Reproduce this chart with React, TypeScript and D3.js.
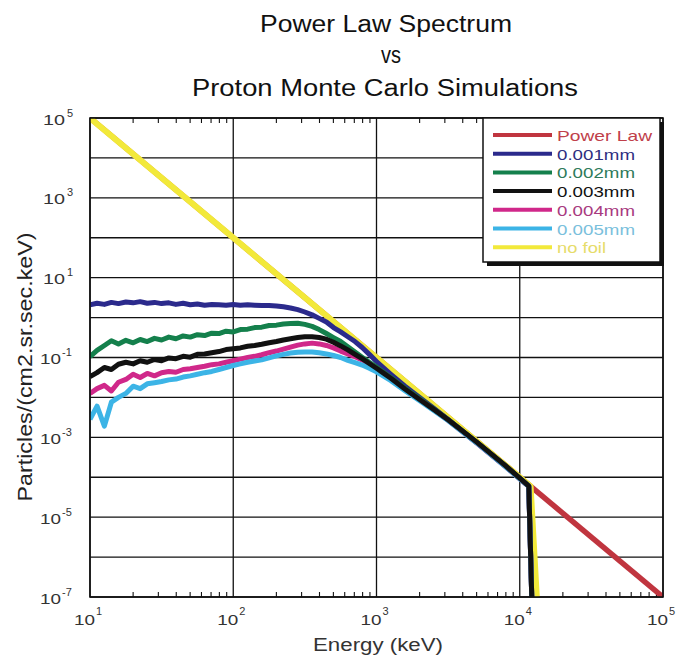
import React from 'react';
import * as d3 from 'd3';

// Energies (keV) at which the simulated spectra are sampled
const energies = [10, 11.2, 12.6, 14.1, 15.8, 17.8, 20, 22.4, 25.1, 28.2, 31.6, 35.5, 39.8, 44.7, 50.1, 56.2, 63.1, 70.8, 79.4, 89.1,
  100, 112, 126, 141, 158, 178, 200, 224, 251, 282, 316, 355, 398, 447, 501, 562, 631, 708, 794, 891,
  1000, 1120, 1260, 1580, 2000, 2510, 3160, 5010, 7940, 10000, 11560, 12130];

const foil001 = [2.09, 2.29, 2.14, 2.40, 2.24, 2.45, 2.34, 2.51, 2.29, 2.40, 2.24, 2.34, 2.14, 2.29, 2.09, 2.19, 2.04, 2.14, 2.09, 2.04,
  2.14, 2.04, 2.09, 2.04, 2.00, 2.00, 1.95, 1.86, 1.74, 1.58, 1.38, 1.17, 0.955, 0.776, 0.562, 0.437, 0.331, 0.251, 0.178, 0.120,
  0.0794, 0.0550, 0.0380, 0.0191, 0.0100, 0.00537, 0.00282, 0.000741, 0.000191, 0.0000933, 0.0000603, 1e-7];

const foil002 = [0.105, 0.151, 0.200, 0.263, 0.219, 0.269, 0.234, 0.282, 0.251, 0.302, 0.275, 0.324, 0.295, 0.347, 0.324, 0.372, 0.355, 0.407, 0.398, 0.457,
  0.437, 0.501, 0.513, 0.562, 0.575, 0.631, 0.646, 0.692, 0.708, 0.724, 0.676, 0.603, 0.501, 0.398, 0.316, 0.251, 0.186, 0.138, 0.102, 0.0759,
  0.0575, 0.0427, 0.0316, 0.0170, 0.00933, 0.00513, 0.00275, 0.000741, 0.000191, 0.0000933, 0.0000603, 1e-7];

const foil003 = [0.0331, 0.0417, 0.0562, 0.0501, 0.0676, 0.0759, 0.0692, 0.0832, 0.0759, 0.0891, 0.0832, 0.0977, 0.0933, 0.107, 0.102, 0.120, 0.123, 0.132, 0.141, 0.158,
  0.166, 0.174, 0.191, 0.200, 0.214, 0.234, 0.251, 0.275, 0.295, 0.316, 0.331, 0.331, 0.316, 0.288, 0.240, 0.195, 0.155, 0.120, 0.0933, 0.0708,
  0.0537, 0.0407, 0.0302, 0.0162, 0.00891, 0.00501, 0.00275, 0.000759, 0.000195, 0.0000955, 0.0000603, 1e-7];

const foil004 = [0.0126, 0.0166, 0.0200, 0.0145, 0.0240, 0.0282, 0.0380, 0.0316, 0.0398, 0.0347, 0.0417, 0.0447, 0.0427, 0.0501, 0.0525, 0.0562, 0.0603, 0.0661, 0.0692, 0.0759,
  0.0832, 0.0912, 0.100, 0.107, 0.117, 0.132, 0.145, 0.162, 0.182, 0.204, 0.219, 0.229, 0.219, 0.200, 0.174, 0.145, 0.123, 0.105, 0.0871, 0.0692,
  0.0525, 0.0398, 0.0295, 0.0158, 0.00871, 0.00490, 0.00269, 0.000724, 0.000186, 0.0000912, 0.0000589, 1e-7];

const foil005 = [0.00282, 0.00603, 0.00191, 0.00759, 0.0100, 0.0126, 0.0191, 0.0166, 0.0219, 0.0234, 0.0251, 0.0275, 0.0288, 0.0324, 0.0347, 0.0380, 0.0417, 0.0447, 0.0501, 0.0562,
  0.0631, 0.0692, 0.0759, 0.0813, 0.0871, 0.0977, 0.110, 0.120, 0.129, 0.135, 0.138, 0.138, 0.132, 0.123, 0.112, 0.100, 0.0851, 0.0741, 0.0646, 0.0537,
  0.0437, 0.0339, 0.0263, 0.0148, 0.00832, 0.00468, 0.00263, 0.000724, 0.000186, 0.0000912, 0.0000589, 1e-7];

const powerLawEnergies = [10, 100000];
const powerLawValues = [100000, 1e-7];

const noFoilEnergies = [10, 11900, 13150];
const noFoilValues = [100000, 0.0000593, 1e-7];

const xTickExponents = [1, 2, 3, 4, 5];
const yLabelExponents = [5, 3, 1, -1, -3, -5, -7];
const yGridExponents = [5, 4, 3, 2, 1, 0, -1, -2, -3, -4, -5, -6, -7];
const minorMultipliers = [2, 3, 4, 5, 6, 7, 8, 9];

const titleLines = ['Power Law Spectrum', 'vs', 'Proton Monte Carlo Simulations'];
const xAxisTitle = 'Energy (keV)';
const yAxisTitle = 'Particles/(cm2.sr.sec.keV)';

const legendLabels = ['Power Law', '0.001mm', '0.002mm', '0.003mm', '0.004mm', '0.005mm', 'no foil'];
const legendLineColors = ['#c0353f', '#2b2a8c', '#14804c', '#111111', '#d0288a', '#3cb4e6', '#f2e93a'];
const legendTextColors = ['#c0404a', '#2e2e80', '#2e7a5a', '#111111', '#a83a80', '#7ac0dc', '#e6dc6a'];
const legendTextLengths = [95, 78, 78, 78, 78, 78, 49];

const FONT = "'Liberation Sans', Arial, Helvetica, sans-serif";

const L = 90, R = 663, T = 118, B = 597;

export default function App() {
  const x = d3.scaleLog().domain([10, 1e5]).range([L, R]);
  const y = d3.scaleLog().domain([1e-7, 1e5]).range([B, T]);
  const line = d3.line<[number, number]>().x(d => x(d[0])).y(d => y(d[1]));

  const zip = (e: number[], v: number[]) => {
    const n = Math.min(e.length, v.length);
    const out: [number, number][] = [];
    for (let i = 0; i < n; i++) out.push([e[i], v[i]]);
    return out;
  };

  // drawing order: power law, no foil, then simulations with 0.003mm on top
  const drawn = [
    { d: zip(powerLawEnergies, powerLawValues), c: legendLineColors[0], w: 5.5 },
    { d: zip(noFoilEnergies, noFoilValues), c: legendLineColors[6], w: 6 },
    { d: zip(energies, foil001), c: legendLineColors[1], w: 5 },
    { d: zip(energies, foil002), c: legendLineColors[2], w: 5 },
    { d: zip(energies, foil004), c: legendLineColors[4], w: 5 },
    { d: zip(energies, foil005), c: legendLineColors[5], w: 5 },
    { d: zip(energies, foil003), c: legendLineColors[3], w: 5 },
  ];

  const minorTicks: number[] = [];
  for (let k = 1; k <= 4; k++) for (const m of minorMultipliers) minorTicks.push(m * Math.pow(10, k));

  const legX = 483, legY = 118, legW = 177, legH = 144;

  return (
    <svg width={680} height={658} style={{ position: 'absolute', left: 0, top: 0, background: '#fff' }} fontFamily={FONT}>
      <rect x={0} y={0} width={680} height={658} fill="#fff" />
      <defs>
        <clipPath id="plotClip">
          <rect x={L} y={T} width={R - L} height={B - T} />
        </clipPath>
      </defs>

      {/* title */}
      <text x={386} y={32} fontSize={23} textAnchor="middle" textLength={252} lengthAdjust="spacingAndGlyphs" fill="#111">{titleLines[0]}</text>
      <text x={391} y={63} fontSize={23} textAnchor="middle" textLength={20} lengthAdjust="spacingAndGlyphs" fill="#111">{titleLines[1]}</text>
      <text x={385} y={95.5} fontSize={23} textAnchor="middle" textLength={386} lengthAdjust="spacingAndGlyphs" fill="#111">{titleLines[2]}</text>

      {/* grid */}
      {yGridExponents.map(e => (
        <line key={'gy' + e} x1={L} x2={R} y1={y(Math.pow(10, e))} y2={y(Math.pow(10, e))} stroke="#111" strokeWidth={1.3} />
      ))}
      {xTickExponents.map(e => (
        <line key={'gx' + e} x1={x(Math.pow(10, e))} x2={x(Math.pow(10, e))} y1={T} y2={B} stroke="#111" strokeWidth={1.3} />
      ))}
      {minorTicks.map((v, i) => (
        <g key={'mt' + i}>
          <line x1={x(v)} x2={x(v)} y1={B} y2={B - 5} stroke="#111" strokeWidth={1.1} />
          <line x1={x(v)} x2={x(v)} y1={T} y2={T + 5} stroke="#111" strokeWidth={1.1} />
        </g>
      ))}

      {/* curves */}
      <g clipPath="url(#plotClip)">
        {drawn.map((s, i) => (
          <path key={'s' + i} d={line(s.d) || ''} fill="none" stroke={s.c} strokeWidth={s.w} strokeLinejoin="round" strokeLinecap="butt" />
        ))}
      </g>

      {/* frame */}
      <rect x={L} y={T} width={R - L} height={B - T} fill="none" stroke="#111" strokeWidth={1.6} />

      {/* y tick labels */}
      {yLabelExponents.map(e => {
        const ty = y(Math.pow(10, e));
        const neg = e < 0;
        return (
          <g key={'yl' + e} fill="#333">
            <text x={neg ? 40 : 43} y={ty + 6.5} fontSize={15} textLength={neg ? 21 : 22} lengthAdjust="spacingAndGlyphs">10</text>
            <text x={neg ? 62 : 67} y={ty - 1.5} fontSize={11}>{neg ? '-' + Math.abs(e) : String(e)}</text>
          </g>
        );
      })}

      {/* x tick labels */}
      {xTickExponents.map(e => {
        const tx = x(Math.pow(10, e));
        return (
          <g key={'xl' + e} fill="#333">
            <text x={tx - 16} y={625} fontSize={15} textLength={21} lengthAdjust="spacingAndGlyphs">10</text>
            <text x={tx + 6} y={615} fontSize={11}>{String(e)}</text>
          </g>
        );
      })}

      {/* axis titles */}
      <text x={378} y={651} fontSize={18} textAnchor="middle" textLength={130} lengthAdjust="spacingAndGlyphs" fill="#333">{xAxisTitle}</text>
      <text transform="translate(32,367) rotate(-90)" x={0} y={0} fontSize={21} textAnchor="middle" textLength={269} lengthAdjust="spacingAndGlyphs" fill="#222">{yAxisTitle}</text>

      {/* legend */}
      <rect x={legX + 4} y={legY + 4} width={legW} height={legH} fill="#111" />
      <rect x={legX} y={legY} width={legW} height={legH} fill="#fff" stroke="#111" strokeWidth={1.5} />
      {legendLabels.map((lab, i) => {
        const ly = 135 + i * 18.7;
        return (
          <g key={'lg' + i}>
            <line x1={493} x2={552} y1={ly} y2={ly} stroke={legendLineColors[i]} strokeWidth={4} />
            <text x={557} y={ly + 6} fontSize={15} fill={legendTextColors[i]} textLength={legendTextLengths[i]} lengthAdjust="spacingAndGlyphs">{lab}</text>
          </g>
        );
      })}
    </svg>
  );
}
